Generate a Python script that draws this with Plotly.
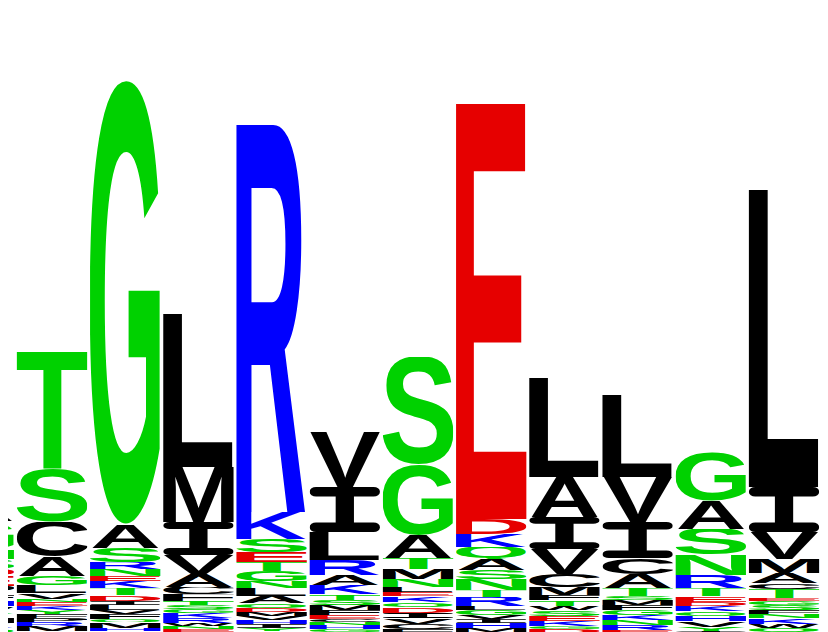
import base64
import plotly.graph_objects as go

# logo columns, letters listed from the top of each stack down to the baseline
positions = list(range(13))
letters = [
    "AGNSDEPFHWYMKQ",
    "TSCAGLVNEKYFPRMW",
    "GASRNEKTDILVFQMHC",
    "LMIVACFTSGKRWNED",
    "RKSETGNLAQDMVHIYC",
    "VILRAKTSMFECNHGW",
    "SGATMNLEKQDIVCF",
    "EDKQASNTRLGVIHMP",
    "LAIVCMFTWSEKGD",
    "LVICATSMFGKNRE",
    "GASNRTEDKQHVYI",
    "LIVMACTEGSFNKWQP",
    "KRTADGLIVNQHFC",
]
heights = [
    [18, 29, 9, 10, 7, 10, 8, 6, 6, 6, 6, 5, 5, 5],
    [117, 53, 35, 19, 9, 8, 6, 3, 4, 4, 4, 4, 4, 4, 5, 2],
    [445, 23, 14, 7, 7, 5, 7, 7, 6, 4, 5, 4, 5, 3, 6, 3, 2],
    [153, 55, 33, 19, 13, 7, 7, 4, 4, 4, 5, 5, 3, 3, 3, 1],
    [387, 27, 13, 10, 9, 10, 7, 8, 7, 5, 4, 4, 4, 4, 4, 3, 2],
    [55, 45, 28, 15, 10, 9, 6, 5, 5, 5, 4, 3, 3, 4, 3, 1],
    [108, 70, 23, 11, 10, 8, 5, 4, 6, 5, 6, 5, 6, 5, 4],
    [415, 15, 13, 12, 11, 9, 11, 7, 9, 4, 5, 4, 4, 5, 4, 1],
    [99, 40, 32, 25, 13, 8, 5, 6, 4, 6, 5, 5, 3, 4],
    [82, 45, 36, 16, 14, 8, 4, 5, 5, 5, 5, 5, 5, 3],
    [49, 28, 25, 21, 13, 8, 6, 4, 5, 5, 5, 6, 4, 2],
    [297, 45, 27, 14, 10, 6, 9, 3, 4, 5, 4, 4, 6, 4, 4, 1],
    [29, 22, 5, 14, 11, 11, 10, 6, 6, 6, 6, 6, 5, 3],
]

colors = {}
for aa in 'GSTNQY':
    colors[aa] = '#00D100'
for aa in 'KRH':
    colors[aa] = '#0000FF'
for aa in 'DE':
    colors[aa] = '#E60000'
for aa in 'AVLIPWFMC':
    colors[aa] = '#000000'

# horizontal ink extent of each glyph (font units, 2048/em)
ink = {
    'A': (0, 1479), 'C': (85, 1395), 'D': (150, 1395), 'E': (150, 1265),
    'F': (150, 1160), 'G': (90, 1480), 'H': (150, 1330), 'K': (150, 1485),
    'L': (150, 1205), 'M': (145, 1560), 'N': (150, 1330), 'P': (150, 1290),
    'Q': (85, 1530), 'R': (150, 1470), 'S': (65, 1290), 'T': (40, 1210),
    'V': (0, 1366), 'W': (5, 1930), 'Y': (0, 1366),
}
CAP = 1409


def glyph(aa):
    c = colors[aa]
    if aa == 'I':
        svg = ('<svg xmlns="http://www.w3.org/2000/svg" width="100" height="100" '
               'viewBox="0 0 100 100" preserveAspectRatio="none">'
               f'<rect x="0" y="0" width="100" height="21" rx="9" ry="10" fill="{c}"/>'
               f'<rect x="37" y="5" width="26" height="90" fill="{c}"/>'
               f'<rect x="0" y="79" width="100" height="21" rx="9" ry="10" fill="{c}"/>'
               '</svg>')
    else:
        left, right = ink[aa]
        over = 25 if aa in 'CGOQS' else 0
        below = 110 if aa == 'Q' else over
        w = right - left
        h = CAP + over + below
        svg = (f'<svg xmlns="http://www.w3.org/2000/svg" width="{w}" height="{h}" '
               f'viewBox="{left} {-(CAP + over)} {w} {h}" preserveAspectRatio="none">'
               f'<text x="0" y="0" font-family="Liberation Sans, Arial, sans-serif" '
               f'font-weight="bold" font-size="2048" fill="{c}">{aa}</text></svg>')
    return 'data:image/svg+xml;base64,' + base64.b64encode(svg.encode()).decode()


sources = {aa: glyph(aa) for aa in colors}

fig = go.Figure()
images = []
for pos, col, hs in zip(positions, letters, heights):
    y = 0
    for aa, h in zip(reversed(col), reversed(hs)):
        images.append(dict(
            source=sources[aa],
            xref='x', yref='y',
            x=pos, y=y,
            sizex=0.96, sizey=h,
            xanchor='center', yanchor='bottom',
            sizing='stretch', layer='above',
        ))
        y += h
fig.update_layout(images=images)

# the page body adds an 8px offset, the ranges absorb it
fig.update_layout(
    width=828, height=632,
    margin=dict(l=0, r=0, t=0, b=0),
    paper_bgcolor='white', plot_bgcolor='white',
    showlegend=False,
    xaxis=dict(range=[0.399, 11.71], visible=False, fixedrange=True),
    yaxis=dict(range=[-7, 625], visible=False, fixedrange=True),
)
fig.write_html("out.html")
